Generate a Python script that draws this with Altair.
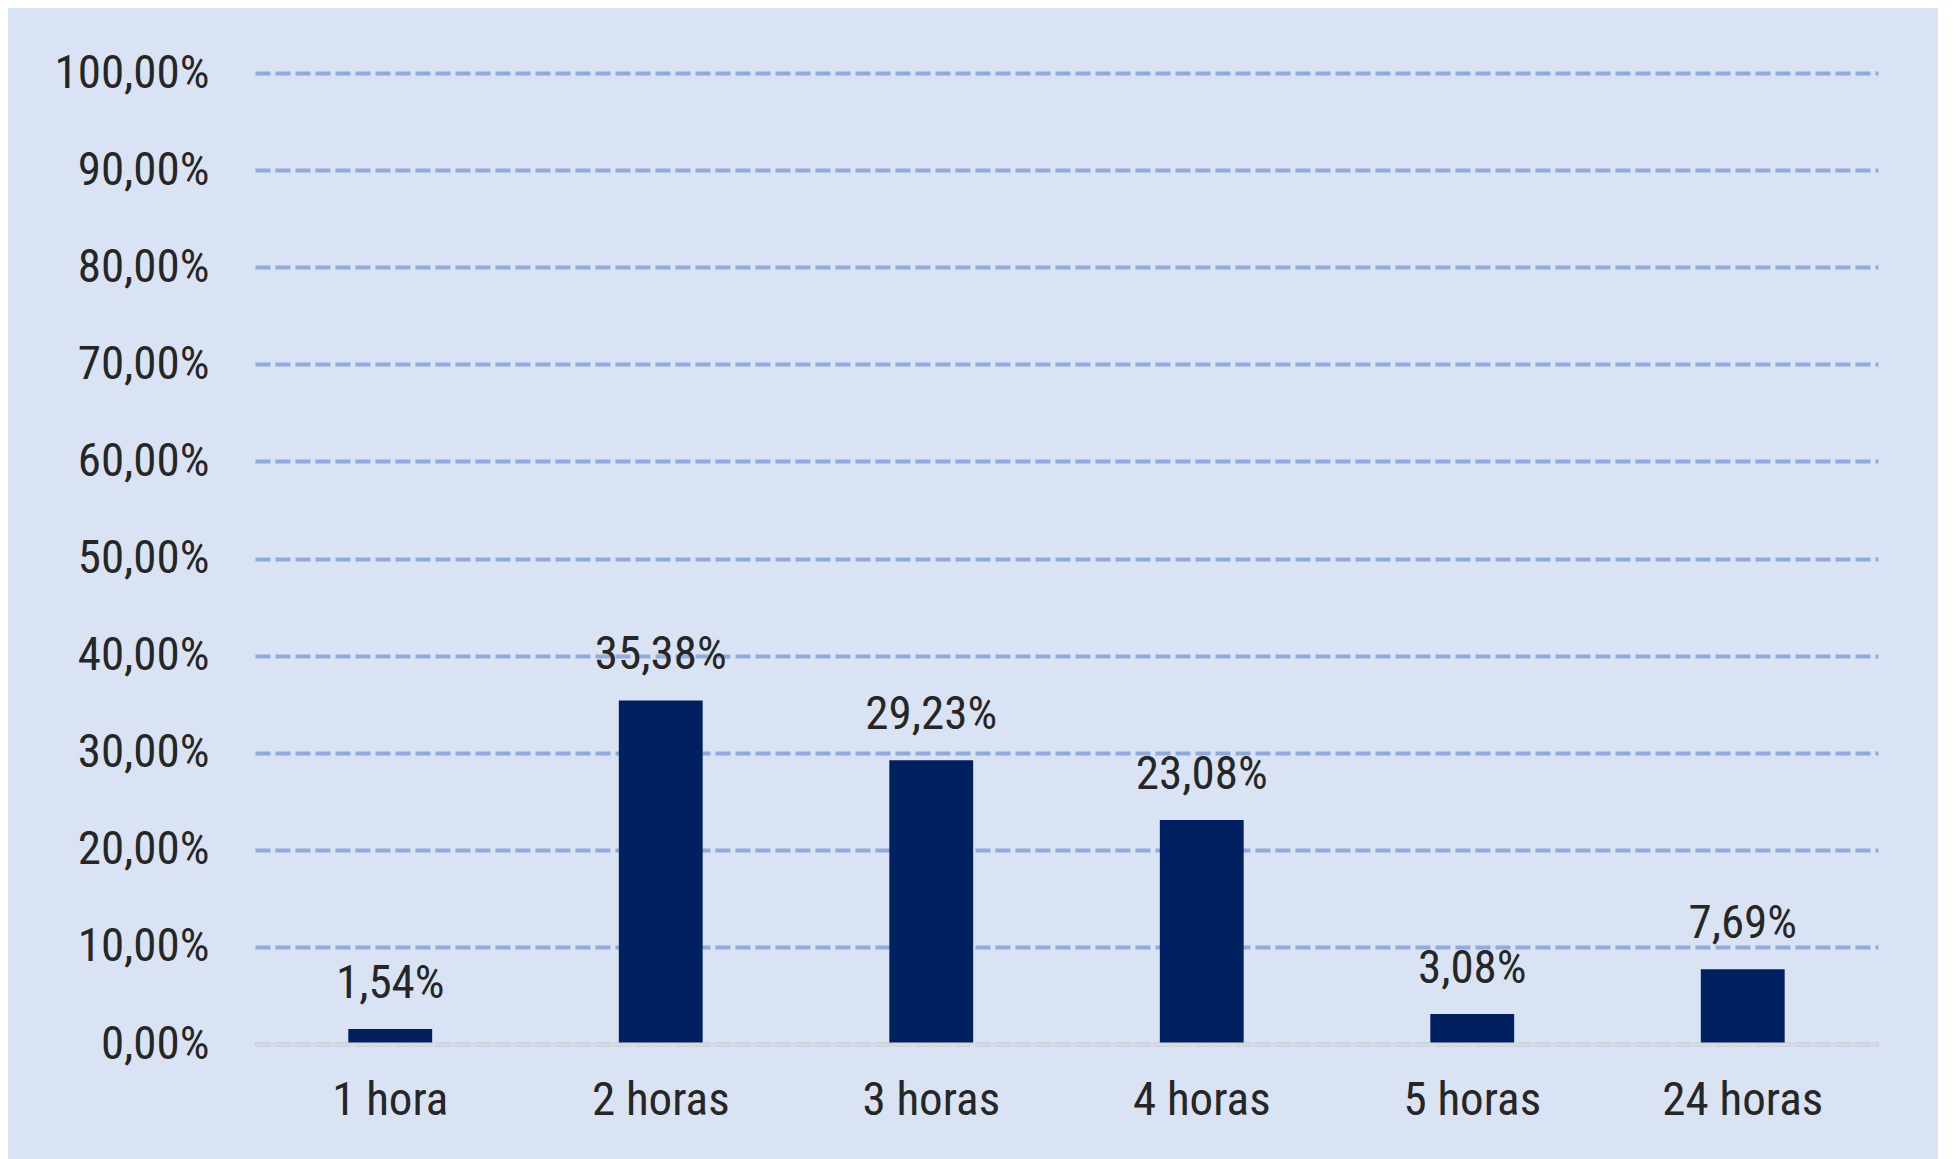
import altair as alt
import pandas as pd

categories = ["1 hora", "2 horas", "3 horas", "4 horas", "5 horas", "24 horas"]
values = [1.54, 35.38, 29.23, 23.08, 3.08, 7.69]
y_ticks = [0, 10, 20, 30, 40, 50, 60, 70, 80, 90, 100]

df = pd.DataFrame({"cat": categories, "v": values})

FONT = "Roboto Condensed, Roboto, sans-serif"
TXT = "#262626"
FS = 47

base = alt.Chart(df).encode(
    x=alt.X("cat:N", sort=categories, title=None,
            scale=alt.Scale(paddingInner=0.69, paddingOuter=0.345),
            axis=alt.Axis(labelAngle=0, ticks=False, domain=True, domainColor="#D9D9D9",
                          domainWidth=4, labelFont=FONT, labelFontSize=FS, labelColor=TXT,
                          labelPadding=33, labelLimit=0, grid=False, zindex=1)),
    y=alt.Y("v:Q", title=None,
            scale=alt.Scale(domain=[0, 100], nice=False),
            axis=alt.Axis(values=y_ticks, ticks=False, domain=False, grid=True,
                          gridColor="#8FAADC", gridDash=[15, 5], gridWidth=4,
                          labelFont=FONT, labelFontSize=FS, labelColor=TXT,
                          labelPadding=46, labelLimit=0,
                          labelExpr="replace(format(datum.value/100, '.2%'), '.', ',')")),
)

bars = base.mark_bar(color="#002060")
labels = base.transform_calculate(
    lab="replace(format(datum.v, '.2f'), '.', ',') + '%'"
).mark_text(font=FONT, fontSize=FS, color=TXT, baseline="alphabetic", dy=-31).encode(
    text="lab:N")

chart = (bars + labels).properties(
    width=1623, height=971,
    background="#DAE3F3",
    padding={"left": 247, "top": 65, "right": 60, "bottom": 130},
    autosize=alt.AutoSizeParams(type="none"),
).configure_view(stroke=None)

chart.save("out.html", embed_options={"renderer": "svg", "actions": False})
